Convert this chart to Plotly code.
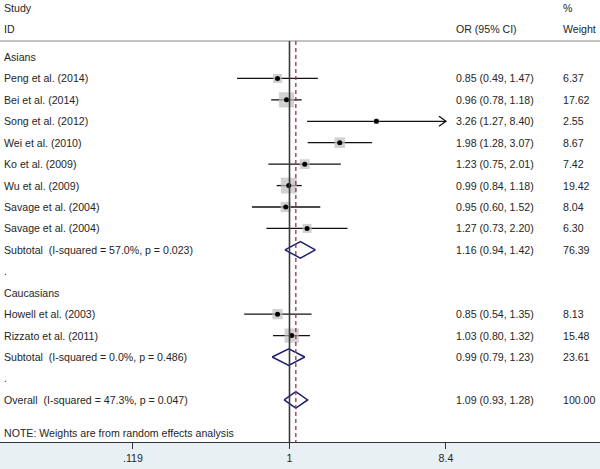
import math
import plotly.graph_objects as go

# ---------------- data ----------------
studies = ["Peng et al. (2014)", "Bei et al. (2014)", "Song et al. (2012)", "Wei et al. (2010)",
           "Ko et al. (2009)", "Wu et al. (2009)", "Savage et al. (2004)", "Savage et al. (2004)",
           "Howell et al. (2003)", "Rizzato et al. (2011)"]
study_rows = [1, 2, 3, 4, 5, 6, 7, 8, 12, 13]
or_vals = [0.85, 0.96, 3.26, 1.98, 1.23, 0.99, 0.95, 1.27, 0.85, 1.03]
ci_low = [0.49, 0.78, 1.27, 1.28, 0.75, 0.84, 0.60, 0.73, 0.54, 0.80]
ci_high = [1.47, 1.18, 8.40, 3.07, 2.01, 1.18, 1.52, 2.20, 1.35, 1.32]
weights = [6.37, 17.62, 2.55, 8.67, 7.42, 19.42, 8.04, 6.30, 8.13, 15.48]

pooled_labels = ["Subtotal  (I-squared = 57.0%, p = 0.023)",
                 "Subtotal  (I-squared = 0.0%, p = 0.486)",
                 "Overall  (I-squared = 47.3%, p = 0.047)"]
pooled_rows = [9, 14, 16]
pooled_or = [1.16, 0.99, 1.09]
pooled_low = [0.94, 0.79, 0.93]
pooled_high = [1.42, 1.23, 1.28]
pooled_weight = [76.39, 23.61, 100.00]

group_labels = ["Asians", "Caucasians"]
group_rows = [0, 11]
spacer_rows = [10, 15]

tick_vals = [0.119, 1, 8.4]
tick_text = [".119", "1", "8.4"]
axis_max = 8.4
overall_est = 1.09

# ---------------- layout constants ----------------
W, H = 600, 469
PX_PER_DEC = 169.3
NULL_PX = 289.5
ROW_PX = 21.43
ROW0_PX = 57.0
AXIS_PX = 442.0

x_range = [-NULL_PX / PX_PER_DEC, (W - NULL_PX) / PX_PER_DEC]
y_top = -ROW0_PX / ROW_PX
y_bot = (AXIS_PX - ROW0_PX) / ROW_PX

def row_of_px(py):
    return (py - ROW0_PX) / ROW_PX

FONT = "Liberation Sans, Arial, sans-serif"
FS = 10.6
TXT = "#262626"
NAVY = "#1c1f6e"

fig = go.Figure()

# CI lines
for i, r in enumerate(study_rows):
    hi = min(ci_high[i], axis_max)
    fig.add_trace(go.Scatter(x=[ci_low[i], hi], y=[r, r], mode="lines",
                             line=dict(color="#111111", width=1.3), hoverinfo="skip"))
    if ci_high[i] >= axis_max:
        # open chevron arrow at the clipped end
        lx = 10 ** (math.log10(hi) - 7 / PX_PER_DEC)
        dy = 5 / ROW_PX
        fig.add_trace(go.Scatter(x=[lx, hi, lx], y=[r - dy, r, r + dy], mode="lines",
                                 line=dict(color="#111111", width=1.3), hoverinfo="skip"))

# weight squares
fig.add_trace(go.Scatter(x=or_vals, y=study_rows, mode="markers",
                         marker=dict(symbol="square", color="#bdbdbd",
                                     size=[3.6 * math.sqrt(w) for w in weights],
                                     line=dict(width=0)),
                         hoverinfo="skip"))
# point estimates
fig.add_trace(go.Scatter(x=or_vals, y=study_rows, mode="markers",
                         marker=dict(symbol="circle", color="#000000", size=5),
                         hoverinfo="skip"))

# diamonds
hh = 8.3 / ROW_PX
for i, r in enumerate(pooled_rows):
    fig.add_trace(go.Scatter(
        x=[pooled_low[i], pooled_or[i], pooled_high[i], pooled_or[i], pooled_low[i]],
        y=[r, r - hh, r, r + hh, r], mode="lines",
        line=dict(color=NAVY, width=1.5), hoverinfo="skip"))

shapes = []
# header separator
hdr_row = row_of_px(41)
shapes.append(dict(type="line", xref="paper", yref="y", x0=0, x1=1, y0=hdr_row, y1=hdr_row,
                   line=dict(color="#c4c4c4", width=2)))
# null line (shape coords on a log axis are data values)
shapes.append(dict(type="line", xref="x", yref="y", x0=1, x1=1, y0=hdr_row, y1=y_bot,
                   line=dict(color="#3a3a3a", width=1.6)))
# overall estimate dashed line
shapes.append(dict(type="line", xref="x", yref="y", x0=overall_est, x1=overall_est,
                   y0=hdr_row, y1=y_bot, line=dict(color="#a03040", width=1.3, dash="4px,3px")))

ann = []
def add_text(xp, row, text):
    ann.append(dict(x=xp, y=row, xref="paper", yref="y", text=text, showarrow=False,
                    xanchor="left", yanchor="middle", font=dict(family=FONT, size=FS, color=TXT)))

X_LBL = 2 / W
X_OR = 454 / W
X_WT = 561 / W

add_text(X_LBL, row_of_px(8), "Study")
add_text(X_LBL, row_of_px(29), "ID")
add_text(X_OR, row_of_px(29), "OR (95% CI)")
add_text(X_WT, row_of_px(8), "%")
add_text(X_WT, row_of_px(29), "Weight")

for g, r in zip(group_labels, group_rows):
    add_text(X_LBL, r, g)
for r in spacer_rows:
    add_text(X_LBL, r, ".")
for i, r in enumerate(study_rows):
    add_text(X_LBL, r, studies[i])
    add_text(X_OR, r, f"{or_vals[i]:.2f} ({ci_low[i]:.2f}, {ci_high[i]:.2f})")
    add_text(X_WT, r, f"{weights[i]:.2f}")
for i, r in enumerate(pooled_rows):
    add_text(X_LBL, r, pooled_labels[i])
    add_text(X_OR, r, f"{pooled_or[i]:.2f} ({pooled_low[i]:.2f}, {pooled_high[i]:.2f})")
    add_text(X_WT, r, f"{pooled_weight[i]:.2f}")
add_text(X_LBL, row_of_px(433), "NOTE: Weights are from random effects analysis")

fig.update_layout(
    width=W, height=H,
    margin=dict(l=0, r=0, t=0, b=H - AXIS_PX),
    paper_bgcolor="#e9f0f3", plot_bgcolor="#ffffff",
    showlegend=False,
    shapes=shapes, annotations=ann,
    xaxis=dict(type="log", range=x_range, tickvals=tick_vals, ticktext=tick_text,
               showgrid=False, zeroline=False, showline=True, linecolor="#333333", linewidth=1.3,
               ticks="outside", ticklen=6, tickwidth=1.3, tickcolor="#333333",
               tickfont=dict(family=FONT, size=FS, color=TXT), fixedrange=True),
    yaxis=dict(range=[y_bot, y_top], visible=False, showgrid=False, zeroline=False, fixedrange=True),
)

fig.write_html("out.html", config={"displayModeBar": False},
               post_script="document.body.style.margin='0';document.body.style.overflow='hidden';")
